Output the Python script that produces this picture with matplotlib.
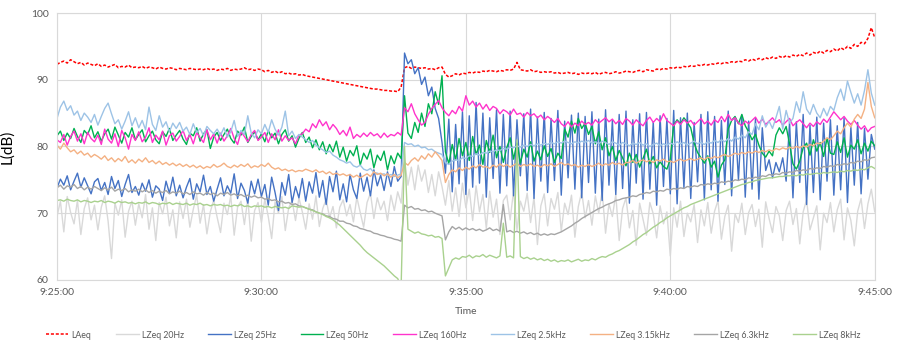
import numpy as np
import matplotlib.pyplot as plt

plt.rcParams['font.family'] = ['Lato', 'DejaVu Sans']

# one sample every 5 s from 9:25:00 to 9:45:00, x in minutes after 9:25
t_min = np.arange(241) * 5 / 60.0
tick_pos = [0, 5, 10, 15, 20]
tick_labels = ["9:25:00", "9:30:00", "9:35:00", "9:40:00", "9:45:00"]

laeq = [
    92.3, 92.6, 92.8, 92.5, 93.0, 92.7, 92.4, 92.6, 92.2, 92.5, 92.3, 92.1,
    92.4, 92.0, 92.2, 91.9, 92.1, 92.3, 91.8, 92.0, 91.9, 92.2, 91.8, 91.9,
    91.8, 92.0, 91.7, 91.9, 91.8, 91.6, 91.9, 91.7, 91.6, 91.8, 91.7, 91.5,
    91.7, 91.6, 91.5, 91.7, 91.6, 91.5, 91.6, 91.5, 91.7, 91.5, 91.6, 91.4,
    91.6, 91.5, 91.7, 91.4, 91.6, 91.5, 91.6, 91.8, 91.5, 91.6, 91.4, 91.6,
    91.5, 91.2, 91.4, 91.1, 91.3, 91.0, 91.2, 90.9, 91.0, 90.8, 90.9, 90.7,
    90.8, 90.6, 90.5, 90.4, 90.3, 90.2, 90.1, 90.0, 89.9, 89.8, 89.7, 89.6,
    89.5, 89.4, 89.3, 89.2, 89.1, 89.0, 88.9, 88.8, 88.7, 88.6, 88.6, 88.5,
    88.4, 88.4, 88.3, 88.3, 88.2, 88.9, 91.8, 92.0, 91.7, 91.9, 91.8, 91.7,
    91.8, 91.6, 91.7, 91.5, 91.8, 91.9, 90.8, 90.4, 90.6, 90.9, 90.7, 91.0,
    90.9, 91.1, 91.0, 91.2, 91.1, 91.3, 91.2, 91.4, 91.3, 91.2, 91.4, 91.3,
    91.5, 91.4, 91.6, 92.6, 91.5, 91.4, 91.3, 91.5, 91.2, 91.3, 91.1, 91.2,
    91.1, 91.2, 91.0, 91.1, 90.9, 91.0, 91.1, 90.9, 91.0, 90.8, 91.0, 90.9,
    91.0, 90.9, 91.1, 90.8, 91.0, 91.1, 90.9, 91.0, 91.2, 91.0, 91.1, 91.3,
    91.2, 91.1, 91.3, 91.4, 91.2, 91.5, 91.4, 91.3, 91.6, 91.5, 91.7, 91.6,
    91.8, 91.7, 91.9, 91.8, 92.0, 91.9, 92.1, 92.0, 92.2, 92.1, 92.3, 92.2,
    92.4, 92.3, 92.5, 92.4, 92.6, 92.5, 92.7, 92.6, 92.8, 92.7, 93.0, 92.8,
    93.1, 92.9, 93.2, 93.0, 93.3, 93.1, 93.4, 93.2, 93.5, 93.3, 93.6, 93.4,
    93.7, 93.5, 93.8, 93.6, 94.0, 93.7, 94.1, 93.9, 94.3, 94.0, 94.4, 94.2,
    94.6, 94.3, 94.8, 94.5, 95.0, 94.7, 95.3, 95.0, 95.6, 95.4, 96.2, 97.8,
    96.3,
]

lz_20 = [
    69.5, 71.8, 67.2, 72.5, 70.1, 68.4, 71.9, 66.8, 70.7, 72.3, 69.0, 71.2,
    67.5, 70.9, 72.6, 68.8, 63.2, 71.5, 69.7, 72.0, 66.4, 70.3, 71.8, 68.2,
    71.4, 69.3, 72.8, 67.6, 70.8, 65.9, 71.6, 69.9, 72.4, 68.1, 70.5, 66.3,
    71.7, 69.2, 72.1, 67.9, 70.6, 72.7, 68.5, 71.3, 66.9, 70.2, 72.0, 69.4,
    67.1, 71.5, 69.8, 72.6, 66.7, 70.9, 71.8, 68.3, 72.2, 65.8, 70.4, 71.6,
    68.6, 72.1, 69.5, 66.2, 71.7, 70.0, 72.5, 67.4, 70.8, 71.9, 68.9, 72.3,
    70.2, 67.6, 71.4, 69.1, 72.6, 68.0, 70.7, 72.1, 69.3, 71.0, 67.8, 70.9,
    72.0, 69.6, 71.3, 68.7, 72.4, 70.1, 67.9, 71.6, 73.0, 69.2, 72.3, 70.5,
    71.8, 68.9, 72.7, 70.4, 73.2, 71.5, 77.8, 74.2, 76.9, 73.5, 77.2, 74.8,
    76.5, 73.1, 75.8, 72.6, 76.2, 74.0, 71.2, 74.9, 70.3, 73.8, 69.5, 74.5,
    70.8, 73.6, 68.9, 74.1, 70.2, 72.8, 67.7, 73.3, 69.4, 72.1, 66.8, 71.9,
    72.7, 69.0, 73.4, 67.5, 71.8, 70.3, 73.0, 68.6, 72.4, 65.3, 71.1, 72.9,
    68.1, 72.2, 70.6, 73.1, 67.3, 71.5, 69.8, 72.7, 66.4, 71.0, 73.2, 69.3,
    71.9, 68.2, 72.6, 70.0, 73.3, 67.0, 71.4, 69.5, 72.8, 65.9, 70.7, 72.3,
    67.8, 70.4, 65.2, 71.5, 69.1, 66.7, 71.6, 69.9, 66.3, 71.1, 68.4, 70.2,
    63.6, 70.8, 67.9, 71.8, 66.5, 70.0, 68.7, 71.3, 65.6, 70.5, 68.1, 71.6,
    67.0, 70.3, 71.9, 66.1, 69.5, 71.2, 64.3, 69.9, 68.6, 71.5, 66.8, 70.1,
    71.3, 68.0, 70.6, 64.9, 71.7, 69.2, 67.1, 71.0, 69.6, 65.9, 70.4, 71.8,
    68.3, 70.7, 65.4, 70.2, 72.0, 67.5, 69.3, 71.1, 64.5, 70.0, 68.6, 71.6,
    67.2, 70.5, 72.1, 66.0, 70.8, 68.9, 65.1, 70.3, 72.2, 67.7, 71.4, 73.6,
    70.2,
]

lz_25 = [
    73.8, 75.1, 74.2, 75.6, 73.5, 74.8, 76.0, 73.9, 75.3, 74.1, 72.9, 74.7,
    75.2, 73.4, 74.6, 72.8, 75.5, 73.7, 74.9, 72.5, 74.3, 75.8, 73.1, 74.0,
    72.7, 74.5, 73.3, 75.0, 72.4, 74.1, 73.6, 71.9, 74.8, 73.0, 75.4, 72.6,
    74.2, 72.3, 73.9, 75.2, 72.1, 74.4, 73.2, 75.7, 72.8, 74.0, 71.8, 73.6,
    75.3, 72.6, 74.1, 73.0, 75.9, 72.2, 74.5, 73.4, 71.5, 74.8, 72.9, 75.1,
    72.5, 74.3, 71.2, 75.4, 73.1, 70.4, 74.6, 72.7, 75.8, 71.6, 74.0, 72.3,
    75.2, 71.8, 74.7, 73.0, 76.1, 72.4, 74.9, 71.3, 75.5, 73.2, 76.3, 72.0,
    74.4, 71.7, 75.8, 73.5, 72.2, 76.0, 73.3, 75.4, 72.6, 76.5, 74.1, 75.7,
    73.4, 76.2, 74.0, 77.0, 74.8, 75.5, 94.0, 92.4, 93.0, 90.9, 91.8, 89.3,
    90.4, 87.6, 88.9, 85.7, 84.2, 80.6, 76.0, 84.1, 73.2, 83.3, 74.4, 85.2,
    72.8, 84.6, 73.9, 86.6, 74.5, 85.0, 72.4, 84.3, 75.2, 85.5, 73.0, 84.8,
    74.1, 85.3, 72.6, 84.0, 75.6, 84.9, 73.4, 85.6, 72.2, 84.4, 74.8, 85.1,
    73.1, 84.2, 74.9, 85.4, 72.7, 83.8, 75.3, 84.7, 73.6, 85.0, 72.3, 84.5,
    74.6, 85.2, 73.0, 84.1, 71.9, 85.5, 74.2, 83.9, 72.8, 84.8, 73.7, 85.3,
    71.5, 84.0, 74.5, 84.9, 72.1, 85.1, 73.6, 83.7, 71.2, 84.6, 74.0, 84.2,
    72.9, 85.4, 71.4, 84.3, 73.8, 85.0, 72.2, 83.6, 74.7, 84.8, 72.0, 85.2,
    73.5, 84.5, 71.8, 83.9, 74.3, 85.3, 72.6, 84.1, 75.0, 84.7, 72.4, 83.8,
    73.6, 84.2, 72.1, 82.8, 76.4, 78.0, 75.3, 77.6, 76.2, 78.3, 74.8, 83.6,
    72.3, 83.7, 74.6, 84.8, 71.3, 83.2, 73.1, 84.4, 72.0, 83.5, 74.8, 84.0,
    72.7, 83.1, 73.5, 84.3, 71.6, 82.9, 74.2, 83.6, 72.9, 82.7, 75.1, 81.8,
    79.6,
]

lz_50 = [
    81.6, 82.3, 80.9, 82.0, 81.2, 82.7, 81.5, 80.6, 82.4, 81.8, 83.1, 81.3,
    82.2, 80.8, 81.9, 82.6, 81.1, 82.9, 81.7, 80.5, 82.1, 81.4, 82.8, 81.0,
    81.8, 82.5, 80.7, 81.6, 82.3, 81.0, 80.4, 82.2, 81.5, 82.7, 80.9, 81.7,
    82.4, 81.1, 80.3, 82.0, 81.6, 82.8, 80.8, 81.9, 82.5, 79.7, 81.4, 82.1,
    80.9, 81.8, 82.6, 81.2, 80.5, 82.3, 81.7, 82.9, 80.6, 81.5, 82.2, 81.0,
    81.9, 80.7, 82.4, 81.3, 82.0, 80.4, 81.8, 82.5, 80.8, 81.6, 79.9, 81.2,
    82.1, 80.6, 81.4, 79.8, 81.0, 79.5, 80.7, 78.9, 80.3, 79.2, 80.8, 78.4,
    79.9, 77.8, 79.4, 78.6, 80.1, 77.2, 79.0, 78.1, 79.6, 76.8, 78.7, 77.9,
    79.3, 76.5, 78.6, 77.4, 79.0, 78.2, 87.6, 82.0, 81.2, 83.6, 82.1, 85.0,
    83.0, 86.4, 84.9, 88.2, 86.3, 90.6, 79.2, 77.4, 80.3, 78.0, 81.2, 78.6,
    80.6, 77.9, 81.5, 78.8, 80.2, 77.3, 80.9, 79.1, 81.7, 78.3, 80.0, 77.6,
    79.8, 81.3, 78.1, 80.5, 77.5, 79.6, 78.4, 80.7, 77.8, 79.3, 78.0, 80.1,
    78.5, 79.7, 77.6, 79.0, 78.2, 82.6, 81.4, 83.8, 82.0, 84.2, 82.7, 83.5,
    81.8, 83.0, 80.4, 82.2, 79.5, 81.3, 78.6, 80.0, 77.9, 79.4, 78.3, 77.1,
    79.0, 77.6, 78.8, 76.9, 78.2, 79.6, 77.4, 78.5, 76.8, 77.7, 77.0, 76.6,
    78.1, 83.2, 84.0, 83.4, 84.3, 83.6, 82.8, 80.5, 79.1, 78.3, 77.5, 78.6,
    76.9, 77.8, 75.4, 77.2, 78.0, 82.6, 83.9, 84.5, 83.4, 84.8, 83.1, 82.2,
    81.0, 81.8, 80.2, 79.0, 78.4, 79.3, 78.6, 81.7, 82.8, 81.9, 83.0, 80.4,
    77.4, 76.6, 77.8, 79.8, 80.5, 78.7, 81.0, 79.3, 80.6, 78.5, 81.2, 79.0,
    78.8, 80.7, 79.1, 81.3, 78.4, 80.2, 79.6, 81.0, 78.9, 80.5, 79.3, 80.8,
    80.1,
]

lz_160 = [
    81.0, 80.6, 81.8, 80.2, 81.5, 82.3, 80.8, 81.9, 80.4, 82.1, 81.2, 80.7,
    81.7, 80.3, 82.6, 81.1, 80.5, 81.9, 80.0, 82.4, 81.3, 79.6, 81.8, 80.9,
    82.2, 80.7, 81.4, 82.8, 80.6, 81.7, 81.0, 82.3, 80.2, 81.6, 82.0, 80.8,
    81.5, 82.4, 80.9, 81.8, 80.4, 82.1, 81.3, 80.6, 82.5, 81.0, 81.9, 80.5,
    82.0, 80.8, 81.6, 82.7, 81.2, 80.3, 82.2, 81.5, 80.7, 81.8, 82.4, 80.9,
    81.4, 82.1, 80.6, 81.9, 81.0, 82.5, 80.8, 81.6, 80.9, 81.3, 80.4, 81.7,
    81.9, 82.6, 82.2, 83.4, 82.8, 84.0, 83.1, 83.7, 82.5, 83.3, 82.7, 81.8,
    82.4, 81.6, 82.9, 81.2, 81.8, 81.4, 82.0, 81.5, 82.1, 81.6, 81.9, 81.3,
    82.0, 81.4, 81.8, 81.6, 82.1, 81.7, 85.8, 85.2, 86.4, 84.9, 84.0, 83.2,
    83.6, 84.8, 85.7, 86.3, 86.9, 85.8, 85.1, 84.6, 85.4, 84.9, 86.0, 85.3,
    87.6, 86.2, 86.8, 85.9, 86.5, 85.6, 86.3, 85.4, 86.0, 85.7, 84.9, 85.5,
    85.2, 84.7, 85.6, 84.8, 85.0, 84.4, 85.1, 84.6, 84.9, 84.3, 84.7, 84.0,
    84.5, 84.1, 83.6, 84.2, 83.4, 83.0, 83.7, 82.9, 83.5, 83.1, 83.8, 83.3,
    83.6, 83.2, 84.0, 83.5, 83.9, 84.3, 83.7, 84.1, 83.4, 83.9, 83.3, 84.2,
    83.8, 83.2, 84.0, 83.5, 83.1, 83.9, 84.4, 83.6, 84.2, 83.7, 84.9, 83.9,
    83.5, 83.1, 83.8, 83.3, 84.0, 83.5, 83.9, 83.2, 83.7, 84.2, 83.4, 83.8,
    83.2, 84.0, 83.6, 84.5, 83.7, 84.8, 83.9, 84.3, 83.5, 83.1, 83.8, 83.4,
    83.9, 84.4, 83.5, 84.1, 83.3, 83.8, 84.3, 83.6, 84.0, 83.2, 83.7, 84.2,
    83.1, 83.6, 84.0, 83.4, 82.8, 83.5, 83.0, 83.7, 83.3, 84.1, 83.6, 84.4,
    85.2, 84.6, 84.0, 84.5, 83.8, 83.3, 83.9, 83.2, 82.6, 83.1, 82.2, 82.8,
    83.0,
]

lz_2k5 = [
    84.2, 85.9, 86.8, 85.4, 86.1, 84.7, 85.3, 83.9, 85.0, 84.4, 83.6, 84.8,
    83.2, 84.5, 85.7, 86.5, 84.9, 83.4, 84.0, 82.6, 83.8, 85.2, 83.1, 84.3,
    82.8, 83.9, 82.5, 85.9, 83.3, 82.4, 84.6, 82.9, 83.7, 82.2, 83.5, 82.7,
    83.6, 82.3, 82.9, 81.8, 83.4, 82.1, 82.7, 81.6, 83.0, 82.4, 81.9, 82.6,
    81.7, 82.8, 81.4, 82.2, 83.9, 81.5, 82.4, 81.8, 84.6, 82.0, 81.3, 82.5,
    81.9, 83.3, 82.1, 84.0, 82.6, 81.7, 82.9, 85.3, 81.6, 82.3, 81.2, 81.8,
    81.4, 81.0, 80.6, 80.9, 80.2, 79.8, 79.5, 79.1, 79.3, 78.7, 78.4, 78.0,
    77.8, 77.5, 77.7, 77.1, 76.9, 77.2, 76.6, 76.4, 76.7, 76.1, 76.0, 75.8,
    75.9, 75.6, 75.8, 75.5, 75.7, 75.9, 80.6, 80.3, 80.4, 80.0, 80.2, 79.8,
    79.9, 79.5, 79.6, 79.2, 79.0, 78.8, 77.6, 77.3, 77.8, 78.0, 77.9, 78.3,
    78.2, 78.6, 78.5, 78.9, 78.7, 79.1, 79.0, 79.3, 79.2, 79.5, 79.4, 79.7,
    79.6, 79.9, 79.8, 80.1, 79.9, 80.2, 80.0, 80.3, 80.1, 80.4, 80.2, 80.5,
    80.3, 80.6, 80.4, 80.7, 80.5, 80.8, 80.6, 80.4, 80.7, 80.5, 80.8, 80.6,
    80.9, 80.5, 80.7, 80.4, 80.8, 80.6, 80.3, 80.7, 80.5, 80.2, 80.6, 80.4,
    80.1, 80.5, 80.3, 80.6, 80.2, 80.4, 80.0, 80.3, 80.5, 80.1, 80.4, 80.2,
    80.5, 80.3, 80.7, 80.4, 80.6, 80.2, 80.5, 80.8, 80.4, 80.6, 80.3, 80.7,
    80.5, 80.9, 80.6, 81.0, 80.7, 81.2, 80.8, 81.4, 81.1, 81.7, 81.3, 82.2,
    81.8, 83.4, 82.5, 84.6, 82.9, 83.8, 82.7, 84.3, 86.0, 82.6, 85.4, 83.5,
    84.2, 86.7, 85.1, 88.2, 85.6, 84.8, 86.3, 85.0, 84.3, 85.7, 84.6, 86.0,
    85.4, 87.3, 88.6, 86.9, 89.8, 88.1, 86.5, 87.9, 86.2, 88.4, 91.5, 88.0,
    86.2,
]

lz_3k15 = [
    80.2, 79.6, 80.5, 79.8, 79.2, 79.5, 78.9, 79.3, 78.7, 79.0, 78.4, 78.8,
    78.5, 78.1, 78.6, 77.9, 78.3, 77.7, 78.2, 77.8, 78.5, 77.6, 78.0, 77.5,
    78.1, 77.7, 78.3, 77.6, 77.9, 77.4, 77.8, 77.3, 77.6, 77.2, 77.5, 77.1,
    77.4, 77.0, 77.3, 76.9, 77.2, 76.8, 77.1, 76.7, 77.0, 76.8, 77.3, 76.9,
    77.1, 77.5, 77.0, 76.8, 77.2, 76.9, 77.3, 77.0, 77.4, 76.8, 77.1, 76.9,
    77.3, 77.0, 77.5, 76.9, 76.6, 76.8, 76.4, 76.6, 76.3, 76.5, 76.2, 76.4,
    76.3, 76.6, 76.4, 76.2, 76.5, 76.1, 76.3, 75.9, 76.2, 75.8, 76.0, 75.7,
    75.9, 75.6, 75.8, 75.4, 75.7, 75.3, 75.6, 75.9, 75.5, 76.2, 75.8, 76.0,
    75.6, 75.9, 75.4, 75.8, 75.3, 75.7, 77.6, 77.2, 77.9, 78.3, 77.8, 78.6,
    78.1, 78.9, 78.4, 79.2, 78.6, 77.9, 74.6, 75.8, 76.5, 76.2, 76.8, 76.4,
    76.9, 76.6, 77.1, 76.8, 77.3, 76.9, 77.0, 76.7, 77.2, 76.9, 77.4, 77.0,
    77.3, 76.9, 77.2, 77.5, 77.0, 77.3, 77.1, 77.4, 77.0, 77.2, 76.9, 77.3,
    77.1, 77.4, 77.0, 77.3, 77.6, 77.2, 77.4, 77.1, 77.3, 76.9, 77.2, 77.0,
    77.3, 77.0, 77.2, 77.5, 77.1, 77.4, 77.2, 77.6, 77.3, 77.5, 77.2, 77.6,
    77.6, 77.9, 77.5, 77.8, 78.0, 77.7, 77.9, 77.6, 78.0, 77.8, 78.1, 77.7,
    77.8, 77.6, 77.9, 78.1, 77.8, 78.0, 78.2, 77.9, 78.1, 78.3, 78.0, 78.4,
    78.2, 78.5, 78.3, 78.6, 78.8, 78.5, 78.7, 79.0, 78.8, 79.1, 78.9, 79.2,
    79.0, 79.3, 79.1, 79.4, 79.2, 79.5, 79.3, 79.7, 79.5, 79.8, 79.6, 79.9,
    79.7, 80.0, 79.8, 80.1, 79.9, 80.3, 80.1, 80.5, 80.4, 80.8, 81.3, 81.0,
    81.6, 82.3, 81.9, 82.8, 83.5, 82.9, 84.1, 84.8, 84.2, 85.6, 89.6, 86.0,
    84.3,
]

lz_6k3 = [
    73.8, 74.2, 73.6, 74.1, 73.9, 74.3, 73.7, 74.0, 73.5, 73.9, 73.6, 74.0,
    73.7, 73.4, 73.8, 73.5, 73.9, 73.3, 73.6, 73.4, 73.7, 73.2, 73.5, 73.3,
    73.6, 73.2, 73.5, 73.1, 73.4, 73.0, 73.3, 73.1, 73.4, 72.9, 73.2, 73.0,
    73.3, 72.9, 73.1, 72.8, 73.2, 72.9, 73.0, 72.7, 73.1, 72.8, 73.0, 72.6,
    73.0, 72.8, 73.1, 72.7, 72.9, 72.6, 72.8, 72.5, 72.7, 72.4, 72.6, 72.3,
    72.4, 72.1, 72.2, 71.9, 72.0, 71.7, 71.8, 71.5, 71.6, 71.3, 71.4, 71.1,
    71.0, 70.8, 70.6, 70.5, 70.2, 70.0, 69.9, 69.6, 69.5, 69.2, 69.1, 68.8,
    68.8, 68.5, 68.4, 68.1, 68.0, 67.7, 67.6, 67.4, 67.3, 67.0, 66.9, 66.7,
    66.6, 66.4, 66.3, 66.1, 66.0, 65.8, 71.2, 70.8, 71.0, 70.6, 70.7, 70.4,
    70.5, 70.2, 70.3, 70.0, 69.8, 69.6, 66.0, 67.2, 68.0, 67.6, 67.9, 67.5,
    67.8, 67.5, 67.7, 67.4, 67.6, 67.3, 67.5, 67.8, 67.4, 67.6, 67.3, 71.3,
    67.2, 67.4, 67.1, 67.3, 67.0, 67.2, 66.9, 67.1, 66.8, 67.0, 66.7, 66.9,
    66.7, 66.9, 66.8, 67.0, 67.2, 67.5, 67.8, 68.1, 68.5, 68.8, 69.2, 69.5,
    69.8, 70.1, 70.4, 70.7, 70.9, 71.2, 71.4, 71.6, 71.9, 72.0, 72.2, 72.3,
    72.4, 72.6, 72.5, 72.8, 72.9, 73.1, 73.0, 73.3, 73.2, 73.4, 73.3, 73.6,
    73.5, 73.7, 73.6, 73.8, 73.7, 74.0, 73.9, 74.1, 74.0, 74.3, 74.2, 74.4,
    74.3, 74.5, 74.4, 74.7, 74.6, 74.8, 74.7, 75.0, 74.9, 75.1, 75.0, 75.3,
    75.2, 75.4, 75.3, 75.6, 75.5, 75.8, 75.7, 75.9, 75.8, 76.1, 76.0, 76.2,
    76.1, 76.4, 76.3, 76.5, 76.4, 76.7, 76.6, 76.8, 76.7, 77.0, 76.9, 77.1,
    77.0, 77.3, 77.2, 77.4, 77.3, 77.6, 77.5, 77.8, 77.7, 78.0, 77.9, 78.3,
    78.4,
]

lz_8k = [
    71.9, 72.0, 71.8, 72.1, 71.9, 71.8, 72.0, 71.7, 71.9, 71.8, 71.6, 71.8,
    71.7, 71.9, 71.6, 71.8, 71.7, 71.5, 71.8, 71.6, 71.7, 71.5, 71.6, 71.4,
    71.6, 71.5, 71.7, 71.4, 71.6, 71.5, 71.3, 71.5, 71.4, 71.6, 71.3, 71.5,
    71.4, 71.3, 71.5, 71.2, 71.4, 71.3, 71.5, 71.2, 71.3, 71.1, 71.3, 71.2,
    71.3, 71.1, 71.2, 71.0, 71.2, 71.1, 71.3, 71.0, 71.1, 70.9, 71.1, 71.0,
    71.1, 70.9, 71.0, 70.8, 71.0, 70.9, 70.8, 70.9, 70.7, 71.1, 71.0, 70.9,
    71.0, 70.8, 70.6, 70.4, 70.2, 70.0, 69.8, 69.5, 69.3, 69.0, 68.6, 68.2,
    67.7, 67.2, 66.7, 66.2, 65.7, 65.2, 64.6, 64.1, 63.7, 63.3, 62.9, 62.5,
    62.1, 61.6, 61.1, 60.6, 60.2, 59.0, 80.0, 67.6, 67.3, 67.0, 67.2, 66.9,
    66.8, 66.6, 66.7, 66.4, 66.5, 66.2, 60.6, 61.8, 63.0, 63.3, 63.1, 63.5,
    63.4, 63.7, 63.3, 63.6, 63.5, 63.8, 63.4, 63.7, 63.5, 63.3, 63.6, 68.5,
    63.4, 63.6, 63.3, 81.0, 63.5, 63.2, 63.4, 63.1, 63.3, 63.0, 63.2, 62.9,
    63.1, 62.8, 63.0, 62.7, 62.9, 62.8, 63.0, 62.7, 62.9, 63.1, 62.8, 63.0,
    62.9, 63.2, 63.0, 63.3, 63.5, 63.4, 63.7, 63.9, 64.2, 64.4, 64.7, 65.0,
    65.3, 65.7, 66.0, 66.4, 66.8, 67.1, 67.5, 67.9, 68.2, 68.6, 68.9, 69.3,
    69.6, 69.9, 70.2, 70.5, 70.8, 71.0, 71.3, 71.5, 71.7, 71.9, 72.1, 72.3,
    72.5, 72.7, 72.9, 73.1, 73.3, 73.5, 73.7, 73.9, 74.1, 74.3, 74.4, 74.6,
    74.7, 74.9, 75.0, 75.1, 75.2, 75.3, 75.3, 75.4, 75.5, 75.5, 75.6, 75.6,
    75.7, 75.6, 75.8, 75.7, 75.9, 75.8, 75.9, 76.0, 75.9, 76.1, 76.0, 76.1,
    76.2, 76.1, 76.3, 76.2, 76.4, 76.3, 76.5, 76.4, 76.6, 76.5, 76.8, 77.0,
    76.7,
]

series = [
    ("LAeq", laeq, "#FF0000"),
    ("LZeq 20Hz", lz_20, "#D9D9D9"),
    ("LZeq 25Hz", lz_25, "#4472C4"),
    ("LZeq 50Hz", lz_50, "#00B050"),
    ("LZeq 160Hz", lz_160, "#FF33CC"),
    ("LZeq 2.5kHz", lz_2k5, "#9DC3E6"),
    ("LZeq 3.15kHz", lz_3k15, "#F4B183"),
    ("LZeq 6.3kHz", lz_6k3, "#A5A5A5"),
    ("LZeq 8kHz", lz_8k, "#A9D18E"),
]

fig = plt.figure(figsize=(8.99, 3.46), dpi=100)
ax = fig.add_axes([0.0634, 0.191, 0.9096, 0.7714])

for name, vals, col in series:
    if name == "LAeq":
        ax.plot(t_min, vals, color=col, lw=1.1, ls=(0, (2, 1.2)), label=name)
    else:
        ax.plot(t_min, vals, color=col, lw=1.0, label=name)

ax.set_xlim(0, 20)
ax.set_ylim(60, 100)
ax.set_yticks([60, 70, 80, 90, 100])
ax.set_xticks(tick_pos)
ax.set_xticklabels(tick_labels)
ax.grid(True, color="#D9D9D9", lw=0.8)
ax.set_axisbelow(True)
for sp in ax.spines.values():
    sp.set_color("#D9D9D9")
    sp.set_linewidth(0.8)
ax.tick_params(length=0, labelsize=7.5, labelcolor="#595959", pad=6)

ax.set_xlabel("Time", fontsize=7.5, color="#595959", labelpad=7)
ax.set_ylabel("L(dB)", fontsize=11, color="#000000", labelpad=12)

fig.legend(loc="center", bbox_to_anchor=(0.504, 1 - 335 / 346), ncol=9,
           frameon=False, fontsize=6.3, labelcolor="#595959",
           handlelength=2.6, handletextpad=0.35, columnspacing=2.8)

fig.savefig("out.png", dpi=100)
